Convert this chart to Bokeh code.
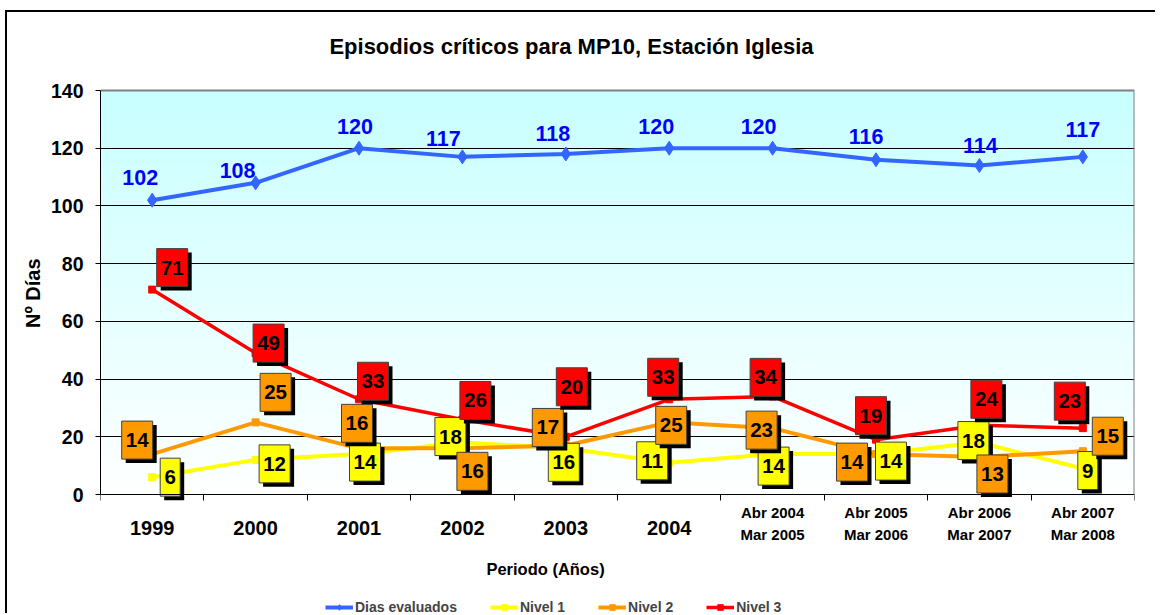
import numpy as np
from bokeh.plotting import figure
from bokeh.models import FixedTicker, Legend, LegendItem, ColumnDataSource, Title
from bokeh.embed import file_html
from bokeh.resources import INLINE
from bokeh.core.properties import value

# ---------------- data ----------------
categories = ["1999", "2000", "2001", "2002", "2003", "2004",
              "Abr 2004\nMar 2005", "Abr 2005\nMar 2006",
              "Abr 2006\nMar 2007", "Abr 2007\nMar 2008"]
dias_evaluados = [102, 108, 120, 117, 118, 120, 120, 116, 114, 117]
nivel_1 = [6, 12, 14, 18, 16, 11, 14, 14, 18, 9]
nivel_2 = [14, 25, 16, 16, 17, 25, 23, 14, 13, 15]
nivel_3 = [71, 49, 33, 26, 20, 33, 34, 19, 24, 23]
y_ticks = [0, 20, 40, 60, 80, 100, 120, 140]
title_text = "Episodios críticos para MP10, Estación Iglesia"

# ---------------- layout / style (pixel offsets of data labels) ----------------
blue_dx = [-12, -18, -4, -19, -13, -13, -14, -10, 1, 0]
blue_dy = [-23, -12, -22, -18, -20, -22, -22, -23, -20, -27]
red_dx = [20, 13, 14, 13, 6, -6, -7, -5, 7, -13]
red_dy = [-22, -10, -18, -19, -50, -22, -19, -24, -26, -27]
orange_dx = [-15, 20, -2, 10, -18, 2, -11, -24, 13, 25]
orange_dy = [-14, -30, -25, 23, -18, 3, 2, 8, 17, -15]
yellow_dx = [18, 19, 6, -12, -2, -17, 1, 15, -6, 5]
yellow_dy = [0, 4, 8, -6, 14, -2, 12, 7, -2, 2]

FONT = "Liberation Sans"
W, H = 1150, 603
ML, MR = 93, 23
TOP_PX = 78          # space above the value band (title area)
VALUE_PX = 404       # pixel height of the 0..Y_MAX value band
FW = W - ML - MR
Y_MAX = 140
N = len(categories)
PX_X = FW / N                            # pixels per x unit
PX_Y = VALUE_PX / Y_MAX                  # pixels per y unit
Y_LOW = -(H - TOP_PX - VALUE_PX) / PX_Y  # room below the value band for labels
Y_HIGH = Y_MAX + TOP_PX / PX_Y           # room above it for the title
X_LO, X_HI = -0.5, N - 0.5


def below(px):
    """data y of a point px pixels below the zero line"""
    return -px / PX_Y


def right_of_left_edge(px):
    """data x of a point px pixels right of the value band's left edge"""
    return X_LO + px / PX_X


x = list(range(N))

p = figure(width=W, height=H, x_range=(X_LO, X_HI), y_range=(Y_LOW, Y_HIGH),
           output_backend="svg", toolbar_location=None,
           min_border_left=ML, min_border_right=MR,
           min_border_top=0, min_border_bottom=0)
p.title.visible = False
p.margin = (10, 0, 0, 5)
p.styles = {"border-top": "2px solid #000000", "border-left": "2px solid #000000"}
p.background_fill_color = "white"
p.border_fill_color = "white"
p.outline_line_color = None

# gradient background of the value band
n = 256
t = np.linspace(0.0, 1.0, n)
top = (0xc8, 0xff, 0xff)
img = np.empty((n, 1), dtype=np.uint32)
view = img.view(dtype=np.uint8).reshape((n, 1, 4))
view[:, 0, 0] = (255 + (top[0] - 255) * t).astype(np.uint8)
view[:, 0, 1] = (255 + (top[1] - 255) * t).astype(np.uint8)
view[:, 0, 2] = (255 + (top[2] - 255) * t).astype(np.uint8)
view[:, 0, 3] = 255
p.image_rgba(image=[img], x=X_LO, y=0, dw=X_HI - X_LO, dh=Y_MAX, level="image")

# grid
p.xgrid.grid_line_color = None
p.ygrid.grid_line_color = "black"
p.ygrid.grid_line_width = 1
p.ygrid.ticker = FixedTicker(ticks=y_ticks[1:-1])
# grey border of the value band (top and right)
p.line([X_LO, X_HI, X_HI], [Y_MAX, Y_MAX, 0], color="#808080", line_width=2)

# y axis
p.yaxis.ticker = FixedTicker(ticks=y_ticks)
p.yaxis.bounds = (0, Y_MAX)
p.yaxis.major_label_text_font = FONT
p.yaxis.major_label_text_font_style = "bold"
p.yaxis.major_label_text_font_size = "19.5px"
p.yaxis.major_label_text_color = "black"
p.yaxis.major_tick_out = 5
p.yaxis.major_tick_in = 0
p.yaxis.minor_tick_line_color = None
p.yaxis.major_label_standoff = 12
p.yaxis.axis_line_color = "black"

# y axis title (placed at the centre of the value band)
p.add_layout(Title(text="Nº Días", align="right", offset=246, standoff=8,
                   text_font=FONT, text_font_style="bold", text_font_size="20px",
                   text_color="black"), "left")

# x axis drawn at zero (tick marks between categories); labels drawn below as text
p.xaxis.fixed_location = 0
p.xaxis.ticker = FixedTicker(ticks=[], minor_ticks=[i - 0.5 for i in range(N + 1)])
p.xaxis.major_tick_out = 0
p.xaxis.major_tick_in = 0
p.xaxis.minor_tick_out = 6
p.xaxis.minor_tick_in = 0
p.xaxis.minor_tick_line_color = "black"
p.xaxis.axis_line_color = "black"
p.xaxis.major_label_standoff = 0

single = [i for i, c in enumerate(categories) if "\n" not in c]
double = [i for i, c in enumerate(categories) if "\n" in c]
p.text(x=single, y=[below(33)] * len(single), text=[categories[i] for i in single],
       text_font=value(FONT), text_font_style="bold", text_font_size="20px",
       text_align="center", text_baseline="middle", text_color="black")
p.text(x=double, y=[below(29)] * len(double), text=[categories[i] for i in double],
       text_font=value(FONT), text_font_style="bold", text_font_size="15px",
       text_line_height=1.3,
       text_align="center", text_baseline="middle", text_color="black")

# x axis title
p.text(x=[right_of_left_edge(445)], y=[below(74)], text=["Periodo (Años)"],
       text_font=value(FONT), text_font_style="bold", text_font_size="16.5px",
       text_align="center", text_baseline="middle", text_color="black")

# chart title
p.text(x=[right_of_left_edge(471)], y=[Y_MAX + 44 / PX_Y], text=[title_text],
       text_font=value(FONT), text_font_style="bold", text_font_size="22px",
       text_align="center", text_baseline="middle", text_color="black")

# series
COL_BLUE, COL_Y, COL_O, COL_R = "#3366ff", "#ffff00", "#ff9900", "#ff0000"
bl = p.line(x, dias_evaluados, color=COL_BLUE, line_width=4)
bs = p.scatter(x, dias_evaluados, marker="diamond", size=14, color=COL_BLUE)
yl = p.line(x, nivel_1, color=COL_Y, line_width=4)
ys = p.scatter(x, nivel_1, marker="square", size=7, color=COL_Y)
ol = p.line(x, nivel_2, color=COL_O, line_width=4)
os_ = p.scatter(x, nivel_2, marker="square", size=7, color=COL_O)
rl = p.line(x, nivel_3, color=COL_R, line_width=3.5)
rs = p.scatter(x, nivel_3, marker="square", size=7, color=COL_R)

# blue data labels
p.text(x=x, y=dias_evaluados, text=[str(v) for v in dias_evaluados],
       x_offset=blue_dx, y_offset=blue_dy, text_color="#0000ff",
       text_font=value(FONT), text_font_style="bold", text_font_size="21.5px",
       text_align="center", text_baseline="middle")


def boxed_labels(vals, dx, dy, fill):
    txt = [str(v) for v in vals]
    bx = [i + d / PX_X for i, d in zip(x, dx)]
    by = [v - d / PX_Y for v, d in zip(vals, dy)]
    sx = [i + (d + 4) / PX_X for i, d in zip(x, dx)]
    sy = [v - (d + 4) / PX_Y for v, d in zip(vals, dy)]
    w = [31 if len(s) > 1 else 20 for s in txt]
    src = ColumnDataSource(dict(bx=bx, by=by, sx=sx, sy=sy, w=w, t=txt))
    p.rect(x="sx", y="sy", width="w", height=38, width_units="screen",
           height_units="screen", source=src, fill_color="black", line_color=None)
    p.rect(x="bx", y="by", width="w", height=38, width_units="screen",
           height_units="screen", source=src, fill_color=fill,
           line_color="#404040", line_width=1)
    p.text(x="bx", y="by", text="t", source=src, text_color="black",
           text_font=value(FONT), text_font_style="bold", text_font_size="20.5px",
           text_align="center", text_baseline="middle")


boxed_labels(nivel_1, yellow_dx, yellow_dy, COL_Y)
boxed_labels(nivel_2, orange_dx, orange_dy, COL_O)
boxed_labels(nivel_3, red_dx, red_dy, COL_R)

legend = Legend(items=[
    LegendItem(label="Dias evaluados", renderers=[bl, bs]),
    LegendItem(label="Nivel 1", renderers=[yl, ys]),
    LegendItem(label="Nivel 2", renderers=[ol, os_]),
    LegendItem(label="Nivel 3", renderers=[rl, rs]),
], orientation="horizontal", location=(225, 0),
    label_text_font=FONT, label_text_font_style="bold", label_text_font_size="14px",
    glyph_width=28, glyph_height=14, label_standoff=2, spacing=33,
    padding=0, margin=0, border_line_color=None, background_fill_alpha=0)
p.add_layout(legend)

open("out.html", "w").write(file_html(p, INLINE))
